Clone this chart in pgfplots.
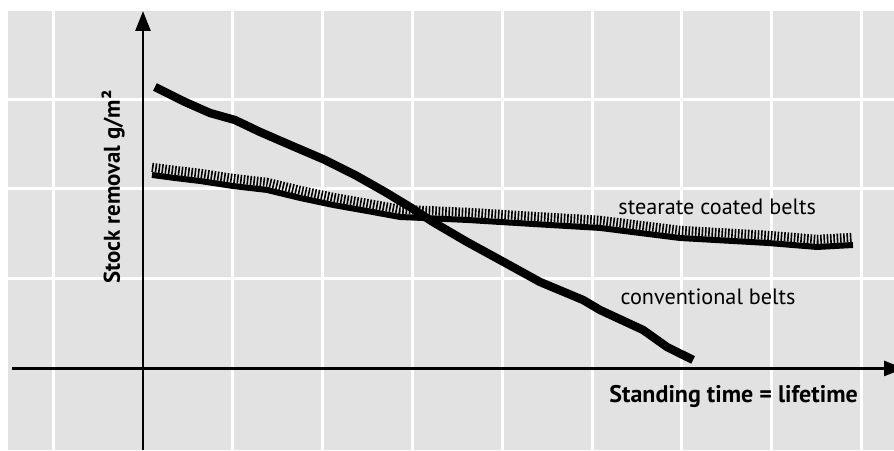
\documentclass[border=0pt]{standalone}
\usepackage{pgfplots}
\pgfplotsset{compat=1.18}
\usetikzlibrary{arrows.meta}
\usepackage{fontspec}
\setmainfont{PT Sans}
\definecolor{bg}{RGB}{226,226,226}
\begin{document}
\begin{tikzpicture}
\useasboundingbox (0,0) rectangle (447pt,225pt);
\begin{axis}[
  at={(4pt,0pt)}, anchor=south west,
  scale only axis, width=448pt, height=219.5pt,
  xmin=-1.503, xmax=8.474, ymin=-0.908, ymax=3.981,
  axis lines=middle,
  axis line style={draw=none},
  axis background/.style={fill=bg},
  xtick={-1,...,8}, ytick={-1,0,1,2,3},
  xticklabels={}, yticklabels={},
  major tick length=0pt,
  grid=major,
  grid style={white, line width=1.5pt},
  clip=false,
]
\draw[line width=1.3pt, -{Triangle[length=10pt,width=7.5pt]}] (axis cs:-1.46,0) -- (axis cs:8.474,0);
\draw[line width=1.3pt, -{Triangle[length=10pt,width=7.5pt]}] (axis cs:0,-0.908) -- (axis cs:0,3.981);
% stearate coated belts: hatch
\addplot[black, line width=4.6pt, dash pattern=on 0.8pt off 0.85pt, yshift=3.8pt] coordinates {
(0.100,2.155)(0.356,2.121)(0.635,2.088)(1.002,2.032)(1.381,1.988)(1.748,1.899)
(2.116,1.821)(2.494,1.754)(2.862,1.687)(3.608,1.654)(4.343,1.609)(5.089,1.565)
(5.980,1.453)(6.949,1.398)(7.506,1.353)(7.906,1.375)};
% stearate coated belts: line
\addplot[black, line width=3pt, line join=round] coordinates {
(0.100,2.155)(0.356,2.121)(0.635,2.088)(1.002,2.032)(1.381,1.988)(1.748,1.899)
(2.116,1.821)(2.494,1.754)(2.862,1.687)(3.608,1.654)(4.343,1.609)(5.089,1.565)
(5.980,1.453)(6.949,1.398)(7.506,1.353)(7.906,1.375)};
% conventional belts
\addplot[black, line width=4.2pt, line join=round] coordinates {
(0.134,3.135)(0.468,2.968)(0.746,2.845)(1.024,2.767)(1.303,2.634)(1.637,2.489)
(2.027,2.322)(2.361,2.155)(2.695,1.966)(2.973,1.798)(3.229,1.631)(3.608,1.409)
(3.976,1.208)(4.421,0.963)(4.900,0.763)(5.089,0.651)(5.568,0.429)(5.835,0.239)
(6.125,0.095)};
\node[anchor=base west, font=\fontsize{11.1}{13}\selectfont, inner sep=0pt] at (axis cs:5.290,1.720) {stearate coated belts};
\node[anchor=base west, font=\fontsize{11.1}{13}\selectfont, inner sep=0pt] at (axis cs:5.313,0.710) {conventional belts};
\node[anchor=base west, font=\fontsize{12}{14}\selectfont\bfseries, inner sep=0pt] at (axis cs:5.190,-0.383) {Standing time = lifetime};
\node[anchor=base, rotate=90, font=\fontsize{11.4}{13}\selectfont\bfseries, inner sep=0pt] at (axis cs:-0.256,2.021) {Stock removal g/m²};
\end{axis}
\end{tikzpicture}
\end{document}
